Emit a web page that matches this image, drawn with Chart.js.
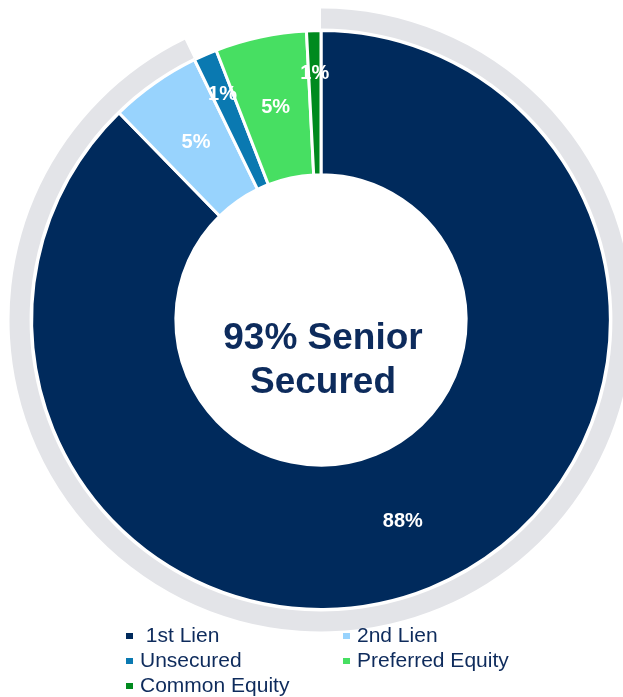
<!DOCTYPE html>
<html>
<head>
<meta charset="utf-8">
<script src="https://cdn.jsdelivr.net/npm/chart.js@4.4.1/dist/chart.umd.min.js"></script>
<style>
  html, body {
    margin: 0;
    padding: 0;
    width: 623px;
    height: 697px;
    overflow: hidden;
    background: #ffffff;
    font-family: "Liberation Sans", Arial, sans-serif;
  }
  .chart-wrap {
    position: absolute;
    left: 0;
    top: 0;
    width: 642px;
    height: 640px;
  }
  .legend {
    position: absolute;
    left: 0;
    top: 623px;
    width: 623px;
  }
  .legend-item {
    position: absolute;
    white-space: pre;
    font-size: 21px;
    line-height: 24px;
    color: #0e2b5c;
  }
  .legend-item .box {
    position: absolute;
    left: 0;
    top: 10px;
    width: 7px;
    height: 6px;
  }
  .legend-item .txt {
    position: absolute;
    left: 14px;
    top: 0;
  }
</style>
</head>
<body>
<div class="chart-wrap"><canvas id="chartCanvas" width="642" height="640"></canvas></div>
<div class="legend" id="legend"></div>
<script>
const categories = ["1st Lien", "2nd Lien", "Unsecured", "Preferred Equity", "Common Equity"];
const legendText = [" 1st Lien", "2nd Lien", "Unsecured", "Preferred Equity", "Common Equity"];
const shares = [87.7, 5.1, 1.3, 5.1, 0.8];
const sliceColors = ["#002a5c", "#98d3fd", "#0a79b1", "#47df62", "#008a1e"];
const seniorSecured = shares[0] + shares[1];
const centerLines = ["93% Senior", "Secured"];

// labels on the slices + the centre caption
const sliceLabels = {
  id: "sliceLabels",
  afterDatasetsDraw(chart) {
    const ctx = chart.ctx;
    const meta = chart.getDatasetMeta(2);
    ctx.save();
    ctx.fillStyle = "#ffffff";
    ctx.font = "bold 20px 'Liberation Sans', Arial, sans-serif";
    ctx.textAlign = "center";
    ctx.textBaseline = "middle";
    meta.data.forEach((arc, i) => {
      const p = arc.getProps(["x", "y", "startAngle", "endAngle", "innerRadius", "outerRadius"], true);
      const mid = (p.startAngle + p.endAngle) / 2;
      const k = shares[i] < 2 ? 0.7 : 0.5;
      const r = p.innerRadius + (p.outerRadius - p.innerRadius) * k;
      ctx.fillText(Math.round(shares[i]) + "%", p.x + Math.cos(mid) * r, p.y + Math.sin(mid) * r);
    });

    const c = meta.data[0];
    ctx.fillStyle = "#0d2b5c";
    ctx.font = "bold 37px 'Liberation Sans', Arial, sans-serif";
    ctx.textBaseline = "alphabetic";
    ctx.fillText(centerLines[0], c.x + 2, c.y + 29);
    ctx.fillText(centerLines[1], c.x + 2, c.y + 73);
    ctx.restore();
  },
};

new Chart(document.getElementById("chartCanvas").getContext("2d"), {
  type: "doughnut",
  data: {
    labels: categories,
    datasets: [
      {
        // grey "senior secured" band
        data: [seniorSecured, 100 - seniorSecured],
        backgroundColor: ["#e3e4e8", "rgba(0,0,0,0)"],
        borderWidth: 0,
        weight: 20,
      },
      {
        data: [100],
        backgroundColor: ["rgba(0,0,0,0)"],
        borderWidth: 0,
        weight: 2,
      },
      {
        data: shares,
        backgroundColor: sliceColors,
        borderColor: "#ffffff",
        borderWidth: 3,
        weight: 143.5,
      },
    ],
  },
  options: {
    responsive: false,
    animation: false,
    events: [],
    cutout: "46.6%",
    layout: { padding: 8.5 },
    plugins: {
      legend: { display: false },
      tooltip: { enabled: false },
    },
  },
  plugins: [sliceLabels],
});

// two-column legend under the chart
const legendEl = document.getElementById("legend");
const cols = [126, 343];
categories.forEach((name, i) => {
  const item = document.createElement("div");
  item.className = "legend-item";
  item.style.left = cols[i % 2] + "px";
  item.style.top = Math.floor(i / 2) * 25 + "px";
  item.innerHTML = '<span class="box"></span><span class="txt"></span>';
  item.querySelector(".box").style.background = sliceColors[i];
  item.querySelector(".txt").textContent = legendText[i];
  legendEl.appendChild(item);
});
</script>
</body>
</html>
